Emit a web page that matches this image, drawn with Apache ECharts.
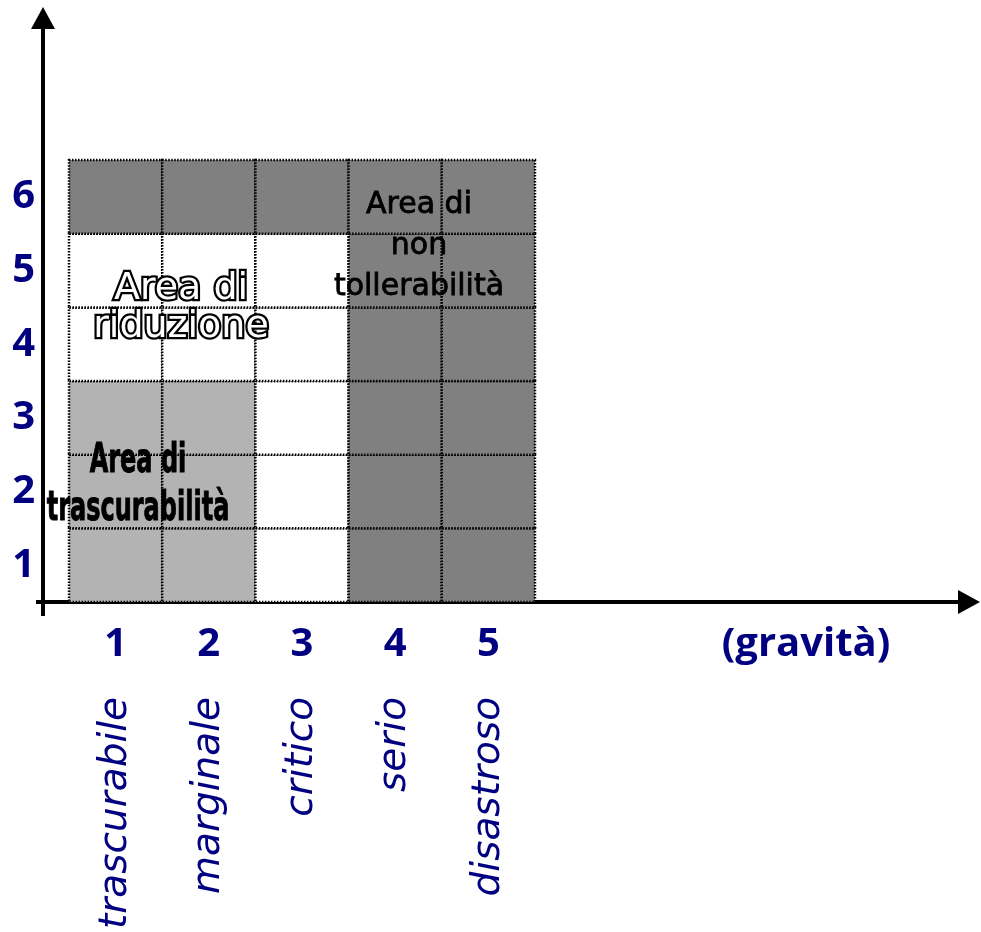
<!DOCTYPE html>
<html>
<head>
<meta charset="utf-8">
<title>Matrice del rischio</title>
<script src="https://cdn.jsdelivr.net/npm/echarts@6.0.0/dist/echarts.min.js"></script>
<style>
  html, body { margin: 0; padding: 0; background: #fff; }
  #main { width: 981px; height: 932px; }
</style>
</head>
<body>
<div id="main"></div>
<script>
// gravità (x) e probabilità (y)
const gravita = [1, 2, 3, 4, 5];
const gravitaNomi = ['trascurabile', 'marginale', 'critico', 'serio', 'disastroso'];
const probabilita = [1, 2, 3, 4, 5, 6];

// 0 = trascurabilità, 1 = riduzione, 2 = non tollerabilità
// one row per probability, from 1 (bottom) to 6 (top)
const areaRows = [
    [0, 0, 1, 2, 2],
    [0, 0, 1, 2, 2],
    [0, 0, 1, 2, 2],
    [1, 1, 1, 2, 2],
    [1, 1, 1, 2, 2],
    [2, 2, 2, 2, 2]
];
const areaColors = ['#b3b3b3', '#ffffff', '#808080'];

const navy = '#000080';
const xMin = 0.221, xMax = 10.157;
const yMin = 0.5, yMax = 8.43;

let cells = [];
probabilita.forEach((p, r) => {
    gravita.forEach((g, c) => {
        cells.push([g, p, areaRows[r][c]]);
    });
});

function renderCell(params, api) {
    const x = api.value(0), y = api.value(1);
    const corner = api.coord([x - 0.5, y + 0.5]);
    const size = api.size([1, 1]);
    return {
        type: 'rect',
        shape: {x: corner[0], y: corner[1], width: size[0], height: size[1]},
        style: {
            fill: areaColors[api.value(2)],
            stroke: '#000',
            lineWidth: 2.5,
            lineDash: [1.5, 1.5]
        }
    };
}

const chart = echarts.init(document.getElementById('main'), null, {renderer: 'canvas'});

let option = {
    backgroundColor: '#fff',
    animation: false,
    grid: {left: 43, right: 12, top: 18, bottom: 330},
    xAxis: [{
        type: 'value',
        min: xMin,
        max: xMax,
        splitLine: {show: false},
        axisLine: {
            onZero: false,
            symbol: ['none', 'triangle'],
            symbolSize: [24, 22],
            lineStyle: {color: '#000', width: 4}
        },
        axisTick: {
            customValues: [xMin],
            length: 14,
            lineStyle: {color: '#000', width: 4}
        },
        axisLabel: {
            customValues: gravita,
            margin: 23,
            color: navy,
            fontFamily: 'Open Sans',
            fontWeight: 'bold',
            fontSize: 40
        }
    }, {
        type: 'value',
        position: 'bottom',
        min: xMin,
        max: xMax,
        splitLine: {show: false},
        axisLine: {show: false},
        axisTick: {show: false},
        axisLabel: {
            customValues: gravita,
            formatter: v => gravitaNomi[gravita.indexOf(v)] || '',
            rotate: 90,
            margin: 95,
            color: navy,
            fontFamily: 'DejaVu Sans',
            fontStyle: 'italic',
            fontSize: 39
        }
    }],
    yAxis: {
        type: 'value',
        min: yMin,
        max: yMax,
        splitLine: {show: false},
        axisLine: {
            onZero: false,
            symbol: ['none', 'triangle'],
            symbolSize: [24, 22],
            lineStyle: {color: '#000', width: 4}
        },
        axisTick: {
            customValues: [yMin],
            length: 7,
            lineStyle: {color: '#000', width: 4}
        },
        axisLabel: {
            customValues: probabilita,
            margin: 8,
            color: navy,
            fontFamily: 'Open Sans',
            fontWeight: 'bold',
            fontSize: 40
        }
    },
    series: [{
        type: 'custom',
        renderItem: renderCell,
        encode: {x: 0, y: 1},
        data: cells,
        z: 2
    }],
    graphic: [
        {
            type: 'text', x: 806, y: 645, z: 100,
            style: {
                text: '(gravità)', fill: navy,
                font: 'bold 40px "Open Sans"',
                align: 'center', verticalAlign: 'middle'
            }
        },
        {
            type: 'text', x: 181, y: 308, z: 100,
            style: {
                text: 'Area di\nriduzione', fill: '#fff',
                stroke: '#000', lineWidth: 4.5,
                font: '38px "DejaVu Sans"', lineHeight: 38,
                align: 'center', verticalAlign: 'middle'
            }
        },
        {
            type: 'text', x: 419, y: 246, z: 100,
            style: {
                text: 'Area di\nnon\ntollerabilità', fill: '#000',
                stroke: '#000', lineWidth: 0.8,
                font: '30px "DejaVu Sans"', lineHeight: 41,
                align: 'center', verticalAlign: 'middle'
            }
        },
        {
            type: 'text', x: 138, y: 486, z: 100, scaleX: 0.6,
            style: {
                text: 'Area di\ntrascurabilità', fill: '#000',
                stroke: '#000', lineWidth: 1,
                font: 'bold 40px "DejaVu Sans"', lineHeight: 48,
                align: 'center', verticalAlign: 'middle'
            }
        }
    ]
};

chart.setOption(option);
</script>
</body>
</html>
